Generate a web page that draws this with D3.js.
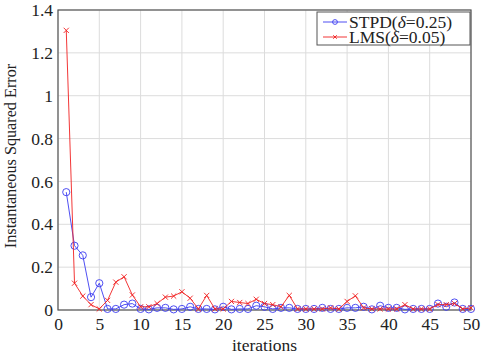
<!DOCTYPE html>
<html>
<head>
<meta charset="utf-8">
<script src="https://cdn.jsdelivr.net/npm/d3@7"></script>
<style>
  body { margin: 0; background: #fff; }
  svg text { font-family: "Liberation Serif", "Times New Roman", Times, serif !important; }
</style>
</head>
<body>
<svg id="chart" width="484" height="355"></svg>
<script>
// DATA ////////////////////////////////////////////////////////////////

var iterations = d3.range(1, 51);

var stpd_values = [0.55, 0.30, 0.255, 0.06, 0.125, 0.005, 0.005, 0.025, 0.03, 0.005,
                   0.003, 0.01, 0.01, 0.003, 0.005, 0.015, 0.005, 0.005, 0.003, 0.015,
                   0.003, 0.005, 0.005, 0.02, 0.015, 0.005, 0.01, 0.01, 0.005, 0.005,
                   0.005, 0.01, 0.005, 0.005, 0.01, 0.01, 0.015, 0.003, 0.02, 0.01,
                   0.01, 0.003, 0.005, 0.005, 0.005, 0.03, 0.015, 0.035, 0.005, 0.005];

var lms_values = [1.305, 0.125, 0.065, 0.025, 0.005, 0.045, 0.13, 0.155, 0.07, 0.015,
                  0.015, 0.03, 0.06, 0.065, 0.085, 0.055, 0.005, 0.068, 0.005, 0.005,
                  0.04, 0.035, 0.03, 0.05, 0.03, 0.025, 0.015, 0.068, 0.005, 0.005,
                  0.005, 0.005, 0.01, 0.005, 0.04, 0.066, 0.01, 0.005, 0.005, 0.005,
                  0.005, 0.025, 0.005, 0.005, 0.005, 0.025, 0.025, 0.03, 0.005, 0.01];

var x_ticks = [0, 5, 10, 15, 20, 25, 30, 35, 40, 45, 50];
var y_ticks = [0, 0.2, 0.4, 0.6, 0.8, 1, 1.2, 1.4];

var series_names = ["STPD", "LMS"];
var series_deltas = ["0.25", "0.05"];

// SETUP ///////////////////////////////////////////////////////////////

const LEFT = 58, RIGHT = 471, TOP = 10, BOTTOM = 310;
const BLUE = "#3b3bf0", RED = "#f02020";
const FONT = "'Liberation Serif', 'Times New Roman', Times, serif";

var svg = d3.select("#chart");

var x = d3.scaleLinear().domain([0, 50]).range([LEFT, RIGHT]);
var y = d3.scaleLinear().domain([0, 1.4]).range([BOTTOM, TOP]);

// grid
svg.append("g")
    .selectAll("line")
    .data(x_ticks)
    .enter().append("line")
        .attr("x1", function (d) { return x(d); })
        .attr("x2", function (d) { return x(d); })
        .attr("y1", TOP)
        .attr("y2", BOTTOM)
        .attr("stroke", "#dcdcdc")
        .attr("stroke-width", 1);

svg.append("g")
    .selectAll("line")
    .data(y_ticks)
    .enter().append("line")
        .attr("x1", LEFT)
        .attr("x2", RIGHT)
        .attr("y1", function (d) { return y(d); })
        .attr("y2", function (d) { return y(d); })
        .attr("stroke", "#dcdcdc")
        .attr("stroke-width", 1);

// axes (labels only, frame drawn separately)
var xAxis = svg.append("g")
    .attr("transform", "translate(0," + BOTTOM + ")")
    .call(d3.axisBottom(x).tickValues(x_ticks).tickSize(0).tickPadding(3));
xAxis.attr("font-family", FONT);
xAxis.select(".domain").remove();
xAxis.selectAll("text")
    .attr("dy", "0.95em")
    .style("font-size", "17.5px")
    .attr("fill", "#222");

var yAxis = svg.append("g")
    .attr("transform", "translate(" + LEFT + ",0)")
    .call(d3.axisLeft(y).tickValues(y_ticks).tickSize(0).tickPadding(5)
        .tickFormat(function (d) { return d3.format("")(+d.toFixed(1)); }));
yAxis.attr("font-family", FONT);
yAxis.select(".domain").remove();
yAxis.selectAll("text")
    .style("font-size", "17.5px")
    .attr("fill", "#222");

// frame
svg.append("rect")
    .attr("x", LEFT)
    .attr("y", TOP)
    .attr("width", RIGHT - LEFT)
    .attr("height", BOTTOM - TOP)
    .attr("fill", "none")
    .attr("stroke", "#555")
    .attr("stroke-width", 1.2);

// axis titles
svg.append("text")
    .attr("x", (LEFT + RIGHT) / 2)
    .attr("y", 351)
    .attr("text-anchor", "middle")
    .style("font-size", "17.5px")
    .attr("fill", "#222")
    .text("iterations");

svg.append("text")
    .attr("transform", "translate(16," + ((TOP + BOTTOM) / 2 - 4) + ") rotate(-90)")
    .attr("text-anchor", "middle")
    .style("font-size", "16.2px")
    .attr("fill", "#222")
    .text("Instantaneous Squared Error");

// SERIES //////////////////////////////////////////////////////////////

var line = d3.line()
    .x(function (d) { return x(d[0]); })
    .y(function (d) { return y(d[1]); });

var stpd = iterations.map(function (it, i) { return [it, stpd_values[i]]; });
var lms = iterations.map(function (it, i) { return [it, lms_values[i]]; });

var plot = svg.append("g");

plot.append("path")
    .datum(stpd)
    .attr("d", line)
    .attr("fill", "none")
    .attr("stroke", BLUE)
    .attr("stroke-width", 0.9);

plot.append("g")
    .selectAll("circle")
    .data(stpd)
    .enter().append("circle")
        .attr("cx", function (d) { return x(d[0]); })
        .attr("cy", function (d) { return y(d[1]); })
        .attr("r", 3.6)
        .attr("fill", "none")
        .attr("stroke", BLUE)
        .attr("stroke-width", 0.9);

plot.append("path")
    .datum(lms)
    .attr("d", line)
    .attr("fill", "none")
    .attr("stroke", RED)
    .attr("stroke-width", 0.9);

function crossPath(cx, cy, s) {
    return "M" + (cx - s) + "," + (cy - s) + "L" + (cx + s) + "," + (cy + s) +
           "M" + (cx - s) + "," + (cy + s) + "L" + (cx + s) + "," + (cy - s);
}

plot.append("g")
    .selectAll("path")
    .data(lms)
    .enter().append("path")
        .attr("d", function (d) { return crossPath(x(d[0]), y(d[1]), 2.6); })
        .attr("stroke", RED)
        .attr("stroke-width", 0.9);

// LEGEND //////////////////////////////////////////////////////////////

var legend = svg.append("g");

legend.append("rect")
    .attr("x", 317)
    .attr("y", 12)
    .attr("width", 153)
    .attr("height", 33)
    .attr("fill", "#fff")
    .attr("stroke", "#555")
    .attr("stroke-width", 1);

var entries = legend.selectAll("g.entry")
    .data(series_names)
    .enter().append("g")
        .attr("class", "entry")
        .attr("transform", function (d, i) { return "translate(0," + (22 + i * 15) + ")"; });

entries.append("line")
    .attr("x1", 323).attr("x2", 347)
    .attr("y1", 0).attr("y2", 0)
    .attr("stroke", function (d, i) { return i === 0 ? BLUE : RED; })
    .attr("stroke-width", 0.9);

entries.each(function (d, i) {
    var g = d3.select(this);
    if (i === 0) {
        g.append("circle").attr("cx", 335).attr("cy", 0).attr("r", 2.4)
            .attr("fill", "none").attr("stroke", BLUE).attr("stroke-width", 0.9);
    } else {
        g.append("path").attr("d", crossPath(335, 0, 1.8))
            .attr("stroke", RED).attr("stroke-width", 0.9);
    }
    var t = g.append("text")
        .attr("x", 349)
        .attr("y", 6)
        .style("font-size", "17.5px")
        .attr("fill", "#222");
    t.append("tspan").text(d + "(");
    t.append("tspan").style("font-style", "italic").text("δ");
    t.append("tspan").text("=" + series_deltas[i] + ")");
});
</script>
</body>
</html>
